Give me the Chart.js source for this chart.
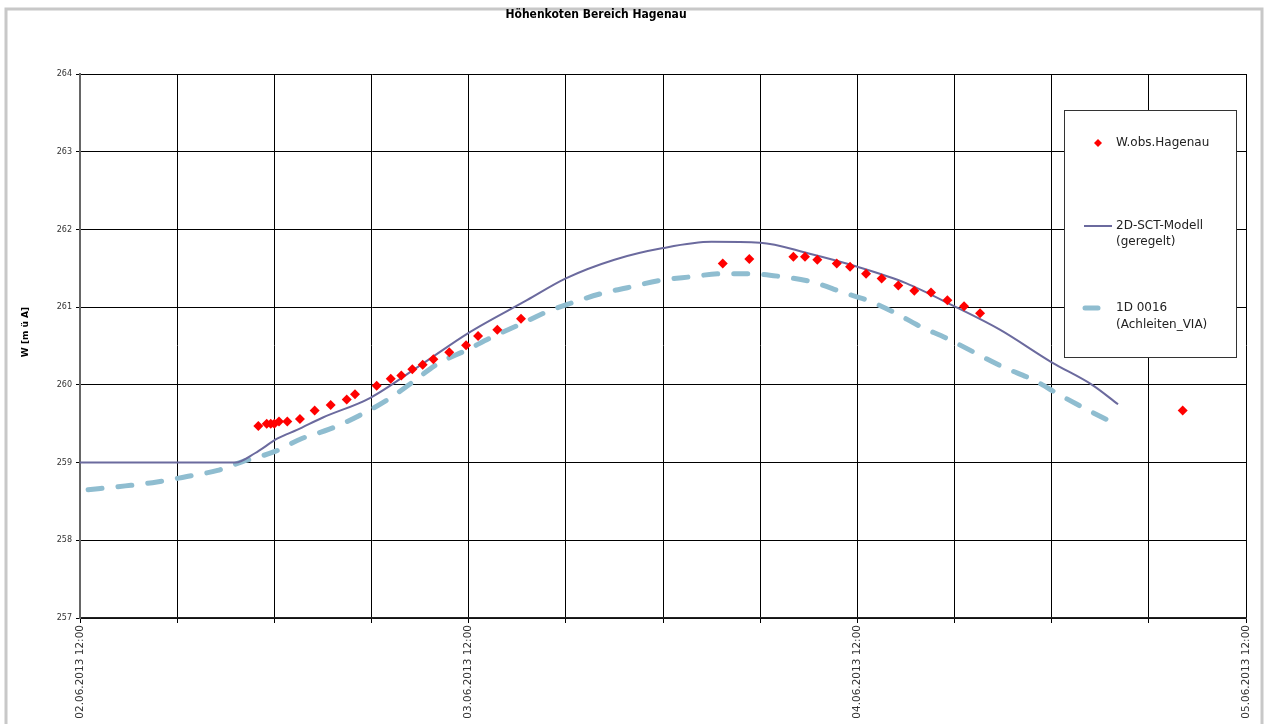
<!DOCTYPE html>
<html>
<head>
<meta charset="utf-8">
<title>Höhenkoten Bereich Hagenau</title>
<script src="https://cdn.jsdelivr.net/npm/chart.js@4.4.1/dist/chart.umd.min.js"></script>
<style>
  html, body { margin: 0; padding: 0; background: #fff; }
  canvas { display: block; }
</style>
</head>
<body>
<canvas id="hagenauChart" width="1268" height="724"></canvas>
<script>
// x values are hours after 02.06.2013 12:00
const startDate = new Date(2013, 5, 2, 12, 0);

const obsHours = [11.01, 11.53, 11.78, 12.00, 12.29, 12.80, 13.58, 14.49, 15.48, 16.47, 16.98, 18.32,
  19.19, 19.84, 20.52, 21.16, 21.82, 22.80, 23.84, 24.58, 25.77, 27.23,
  39.69, 41.33, 44.05, 44.77, 45.53, 46.73, 47.55, 48.54, 49.50, 50.53, 51.52, 52.55, 53.56, 54.59, 55.58,
  68.09];
const obsLevels = [259.47, 259.50, 259.50, 259.50, 259.53, 259.53, 259.56, 259.67, 259.74, 259.81, 259.88, 259.99,
  260.08, 260.12, 260.20, 260.26, 260.33, 260.42, 260.51, 260.63, 260.71, 260.85,
  261.56, 261.62, 261.65, 261.65, 261.61, 261.56, 261.52, 261.43, 261.37, 261.28, 261.21, 261.19, 261.09, 261.01, 260.92,
  259.67];

const modelHours = [0, 9.6, 10.8, 12.2, 13.4, 15, 17.9, 21, 24, 27.6, 30, 33, 36, 39, 42, 45, 48, 51, 54, 56.8, 60, 62.5, 64.1];
const modelLevels = [259.00, 259.00, 259.12, 259.31, 259.42, 259.58, 259.83, 260.25, 260.67, 261.09, 261.37, 261.61,
  261.76, 261.84, 261.83, 261.69, 261.52, 261.31, 261.01, 260.71, 260.29, 260.00, 259.75];

const oneDHours = [0.5, 2.8, 4.75, 6.6, 8.5, 10, 12, 13.7, 15.4, 17.2, 19, 20.5, 22, 23.9, 25.5, 27.4, 28.6, 30.3,
  32.1, 33.8, 35.7, 37.7, 39.6, 41.4, 43.4, 45.3, 47.1, 48.6, 50.2, 51.9, 53.5, 57, 58.9, 60.5, 62.2, 64.2];
const oneDLevels = [258.65, 258.70, 258.75, 258.82, 258.90, 259.01, 259.14, 259.31, 259.43, 259.60, 259.81, 260.03,
  260.26, 260.45, 260.62, 260.80, 260.92, 261.05, 261.17, 261.25, 261.34, 261.39, 261.43, 261.43, 261.39, 261.32,
  261.19, 261.09, 260.94, 260.75, 260.60, 260.23, 260.06, 259.87, 259.68, 259.47];

const yMin = 257, yMax = 264;
const xMin = 0, xMax = 72, xGridStep = 6, xLabelStep = 24;

const seriesNames = ['W.obs.Hagenau', '2D-SCT-Modell (geregelt)', '1D 0016 (Achleiten_VIA)'];
const obsColor = '#ff0000';
const modelColor = '#6b6a9e';
const oneDColor = '#8fbdd0';

const toPoints = (xs, ys) => xs.map((x, i) => ({ x: x, y: ys[i] }));

function fmtHour(h) {
  const d = new Date(startDate.getTime() + h * 3600000);
  const p = n => String(n).padStart(2, '0');
  return p(d.getDate()) + '.' + p(d.getMonth() + 1) + '.' + d.getFullYear() + ' ' + p(d.getHours()) + ':' + p(d.getMinutes());
}

function diamond(ctx, x, y, r) {
  ctx.beginPath();
  ctx.moveTo(x, y - r);
  ctx.lineTo(x + r, y);
  ctx.lineTo(x, y + r);
  ctx.lineTo(x - r, y);
  ctx.closePath();
  ctx.fill();
}

const decor = {
  id: 'decor',
  beforeDraw(chart) {
    const ctx = chart.ctx;
    ctx.save();
    ctx.fillStyle = '#fff';
    ctx.fillRect(0, 0, chart.width, chart.height);
    ctx.strokeStyle = '#c8c8c8';
    ctx.lineWidth = 3;
    ctx.strokeRect(6, 9, chart.width - 12, chart.height + 10);
    ctx.restore();
  },
  afterDraw(chart) {
    const ctx = chart.ctx;
    ctx.save();
    // title
    ctx.fillStyle = '#000';
    ctx.font = 'bold 12px "DejaVu Sans Condensed", "DejaVu Sans", sans-serif';
    ctx.textAlign = 'center';
    ctx.textBaseline = 'middle';
    ctx.fillText('Höhenkoten Bereich Hagenau', 596, 15);
    // y axis title
    ctx.save();
    ctx.translate(26, 332);
    ctx.rotate(-Math.PI / 2);
    ctx.font = 'bold 9px "DejaVu Sans", sans-serif';
    ctx.fillText('W [m ü A]', 0, 0);
    ctx.restore();

    // legend box
    const bx = 1064, by = 110, bw = 172, bh = 247;
    ctx.fillStyle = '#fff';
    ctx.fillRect(bx, by, bw, bh);
    ctx.strokeStyle = '#333';
    ctx.lineWidth = 1;
    ctx.strokeRect(bx + 0.5, by + 0.5, bw, bh);

    ctx.font = '12px "DejaVu Sans", sans-serif';
    ctx.textAlign = 'left';
    ctx.fillStyle = '#222';
    ctx.fillText('W.obs.Hagenau', 1116, 143);
    ctx.fillText('2D-SCT-Modell', 1116, 226);
    ctx.fillText('(geregelt)', 1116, 242);
    ctx.fillText('1D 0016', 1116, 308);
    ctx.fillText('(Achleiten_VIA)', 1116, 325);

    ctx.fillStyle = obsColor;
    diamond(ctx, 1098, 143, 4);

    ctx.strokeStyle = modelColor;
    ctx.lineWidth = 2;
    ctx.beginPath();
    ctx.moveTo(1084, 226);
    ctx.lineTo(1112, 226);
    ctx.stroke();

    ctx.strokeStyle = oneDColor;
    ctx.lineWidth = 5;
    ctx.lineCap = 'round';
    ctx.beginPath();
    ctx.moveTo(1085, 308);
    ctx.lineTo(1098, 308);
    ctx.stroke();
    ctx.restore();
  }
};

new Chart(document.getElementById('hagenauChart'), {
  type: 'scatter',
  data: {
    datasets: [
      {
        label: seriesNames[0],
        data: toPoints(obsHours, obsLevels),
        pointStyle: 'rectRot',
        pointRadius: 5,
        pointBackgroundColor: obsColor,
        pointBorderColor: obsColor,
        pointBorderWidth: 0,
        showLine: false,
        order: 0
      },
      {
        label: seriesNames[1],
        data: toPoints(modelHours, modelLevels),
        showLine: true,
        borderColor: modelColor,
        borderWidth: 2,
        pointRadius: 0,
        cubicInterpolationMode: 'monotone',
        order: 1
      },
      {
        label: seriesNames[2],
        data: toPoints(oneDHours, oneDLevels),
        showLine: true,
        borderColor: oneDColor,
        borderWidth: 5,
        borderDash: [14, 16],
        borderCapStyle: 'round',
        pointRadius: 0,
        cubicInterpolationMode: 'monotone',
        order: 2
      }
    ]
  },
  options: {
    responsive: false,
    animation: false,
    layout: { padding: { left: 0, top: 74, right: 22, bottom: 0 } },
    plugins: {
      legend: { display: false },
      title: { display: false },
      tooltip: { enabled: false }
    },
    scales: {
      x: {
        type: 'linear',
        min: xMin,
        max: xMax,
        grid: { color: '#000', lineWidth: 1, tickLength: 5, tickColor: '#000' },
        border: { color: '#222', width: 1.5 },
        ticks: {
          stepSize: xGridStep,
          autoSkip: false,
          maxRotation: 90,
          minRotation: 90,
          padding: 2,
          color: '#333',
          font: { family: '"DejaVu Sans", sans-serif', size: 10.5 },
          callback: v => (v % xLabelStep === 0 ? fmtHour(v) : '')
        },
        afterFit(scale) {
          scale.height = 106;
          scale.paddingLeft = 0;
          scale.paddingRight = 0;
        }
      },
      y: {
        min: yMin,
        max: yMax,
        grid: { color: '#000', lineWidth: 1, tickLength: 4, tickColor: '#000' },
        border: { color: '#666', width: 2 },
        ticks: {
          stepSize: 1,
          padding: 4,
          color: '#333',
          font: { family: '"DejaVu Sans", sans-serif', size: 8 }
        },
        afterFit(scale) {
          scale.width = 80;
          scale.paddingTop = 0;
          scale.paddingBottom = 0;
        }
      }
    }
  },
  plugins: [decor]
});
</script>
</body>
</html>
